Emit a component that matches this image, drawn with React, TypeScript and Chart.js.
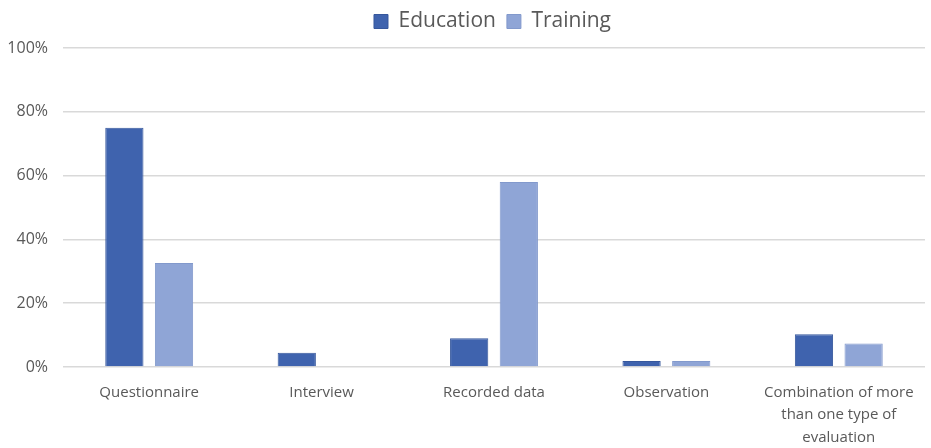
import React, { useEffect, useRef } from "react";
import { Chart, registerables } from "chart.js";

Chart.register(...registerables);

const categories: (string | string[])[] = [
  "Questionnaire",
  "Interview",
  "Recorded data",
  "Observation",
  ["Combination of more", "than one type of", "evaluation"],
];
const educationValues = [75, 4.5, 9, 1.9, 10.3];
const trainingValues = [32.6, 0, 58, 1.9, 7.4];
const yTicks = [0, 20, 40, 60, 80, 100];

const legendTweak = {
  id: "legendTweak",
  afterInit(chart: any) {
    const lg = chart.legend;
    if (lg && !lg.__patched) {
      const orig = lg.fit;
      lg.fit = function () {
        orig.call(this);
        this.height += 6;
      };
      lg.__patched = true;
    }
  },
  afterLayout(chart: any) {
    const lg = chart.legend;
    if (lg) {
      lg.left += 29;
      lg.right += 29;
    }
  },
};

export default function App() {
  const ref = useRef<HTMLCanvasElement | null>(null);
  useEffect(() => {
    document.body.style.margin = "0";
    const ctx = ref.current!;
    const font = "'Open Sans', 'Noto Sans', sans-serif";
    const chart = new Chart(ctx, {
      type: "bar",
      plugins: [legendTweak],
      data: {
        labels: categories,
        datasets: [
          {
            label: "Education",
            data: educationValues,
            backgroundColor: "#3F63AE",
            borderColor: "#36579c",
            borderWidth: 1,
            categoryPercentage: 0.576,
            barPercentage: 0.77,
          },
          {
            label: "Training",
            data: trainingValues,
            backgroundColor: "#8FA5D6",
            borderColor: "#8299cc",
            borderWidth: 1,
            categoryPercentage: 0.576,
            barPercentage: 0.77,
          },
        ],
      },
      options: {
        animation: false,
        responsive: false,
        maintainAspectRatio: false,
        layout: { padding: { left: 2, right: 6, top: 0, bottom: 0 } },
        plugins: {
          tooltip: { enabled: false },
          legend: {
            position: "top",
            labels: {
              color: "#595959",
              font: { family: font, size: 21 },
              boxWidth: 14,
              boxHeight: 14,
              padding: 11,
            },
          },
        },
        scales: {
          x: {
            grid: { display: false, drawTicks: false },
            border: { display: false },
            afterFit: (axis: any) => {
              axis.height = 81;
            },
            ticks: {
              color: "#595959",
              font: { family: font, size: 15, lineHeight: 1.5 },
              maxRotation: 0,
              autoSkip: false,
              padding: 14,
            },
          },
          y: {
            min: 0,
            max: 100,
            afterBuildTicks: (axis: any) => {
              axis.ticks = yTicks.map((v) => ({ value: v }));
            },
            afterFit: (axis: any) => {
              axis.width = 61;
            },
            grid: { color: "#d9d9d9", lineWidth: 1.5, drawTicks: false },
            border: { display: false },
            ticks: {
              color: "#595959",
              font: { family: font, size: 16 },
              padding: 15,
              callback: (v: any) => v + "%",
            },
          },
        },
      },
    });
    return () => chart.destroy();
  }, []);
  return (
    <div style={{ position: "absolute", left: 0, top: 0, width: 931, height: 448, background: "#fff" }}>
      <canvas ref={ref} width={931} height={448} />
    </div>
  );
}
